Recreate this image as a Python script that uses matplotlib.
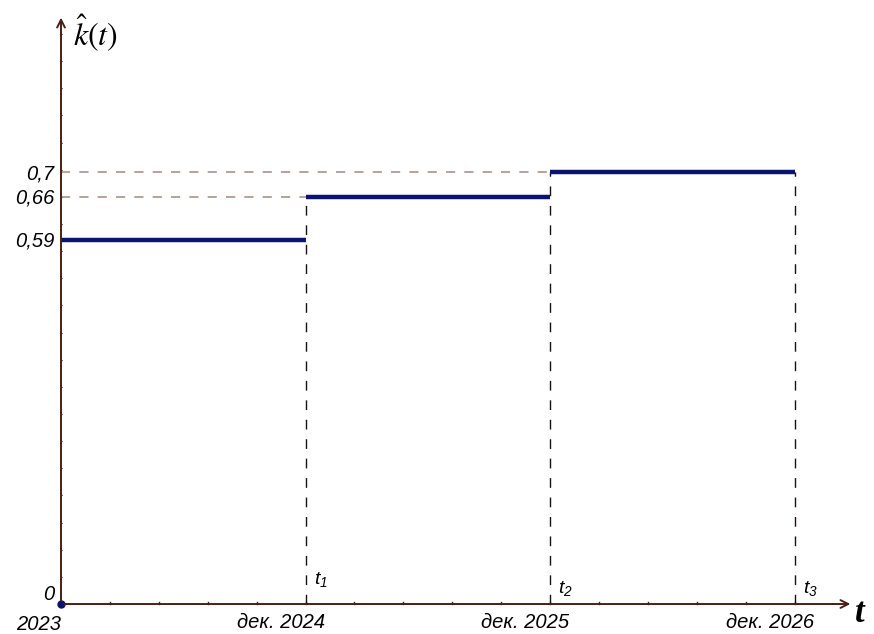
import matplotlib
matplotlib.use("Agg")
import matplotlib.pyplot as plt
import numpy as np

plt.rcParams['mathtext.fontset'] = 'custom'
plt.rcParams['mathtext.it'] = 'Liberation Sans:italic'
plt.rcParams['mathtext.rm'] = 'Liberation Sans:italic'

# Step function k̂(t) on intervals [t0,t1], [t1,t2], [t2,t3]
t_points = [0, 1, 2, 3]
k_values = [0.59, 0.66, 0.7]
y_tick_values = [0.7, 0.66, 0.59]
y_tick_labels = ["0,7", "0,66", "0,59"]
x_tick_labels = ["дек. 2024", "дек. 2025", "дек. 2026"]
t_names = ["$t_1$", "$t_2$", "$t_3$"]

NAVY = "#0b1370"
AXIS = "#4a1e14"
GUIDE_H = "#a08a82"
GUIDE_V = "#1a1010"
FS = 14.5

fig = plt.figure(figsize=(8.74, 6.34), dpi=100)
ax = fig.add_axes([0, 0, 1, 1])
ax.set_xlim(-0.2495, 3.325)
ax.set_ylim(-0.0486, 0.979)
ax.axis("off")

# axes with open arrowheads
ax.annotate("", xy=(3.24, 0), xytext=(0, 0),
            arrowprops=dict(arrowstyle="->", color=AXIS, lw=1.4, mutation_scale=14))
ax.annotate("", xy=(0, 0.955), xytext=(0, 0),
            arrowprops=dict(arrowstyle="->", color=AXIS, lw=1.4, mutation_scale=14))

# small tick dots along the axes
for xm in np.arange(0.2, 3.2, 0.2):
    ax.plot([xm, xm], [0, 0.004], color=AXIS, lw=1.0)
for ym in np.arange(0.044, 0.93, 0.044):
    ax.plot([0, 0.006], [ym, ym], color=AXIS, lw=0.8, alpha=0.6)

# dashed guide lines
for i, level in enumerate(k_values[1:]):
    ax.plot([0, t_points[i + 1]], [level, level], color=GUIDE_H, lw=1.1,
            dashes=(6, 6))
for i in range(1, 4):
    top = k_values[min(i, 2)]
    ax.plot([t_points[i], t_points[i]], [0, top], color=GUIDE_V, lw=1.0,
            dashes=(7, 7))

# step segments
for i, level in enumerate(k_values):
    ax.plot([t_points[i], t_points[i + 1]], [level, level], color=NAVY, lw=3.2,
            solid_capstyle="butt")

ax.plot([0], [0], "o", color=NAVY, ms=5)

txt = dict(fontsize=FS, style="italic", family="Liberation Sans")

# y tick labels
for v, lab in zip(y_tick_values, y_tick_labels):
    ax.annotate(lab, xy=(0, v), xytext=(-5, -1), textcoords="offset points",
                ha="right", va="center", **txt)
ax.annotate("0", xy=(0, 0), xytext=(-5, 7), textcoords="offset points",
            ha="right", va="center", **txt)
ax.annotate("2023", xy=(0, 0), xytext=(0, -15), textcoords="offset points",
            ha="right", va="center", **txt)

# x tick labels and t_i markers
for i, lab in enumerate(x_tick_labels):
    ax.annotate(lab, xy=(t_points[i + 1], 0), xytext=(14, -13), textcoords="offset points",
                ha="right", va="center", **txt)
for i, name in enumerate(t_names):
    dy = 18 if i == 0 else 11
    ax.annotate(name, xy=(t_points[i + 1], 0), xytext=(6, dy), textcoords="offset points",
                ha="left", va="center", fontsize=14)

# axis names
ax.text(0.05, 0.925, r"$\hat{k}(t)$", fontsize=23, math_fontfamily="stix",
        ha="left", va="center")
ax.annotate("t", xy=(3.24, 0), xytext=(1, -13), textcoords="offset points",
            ha="left", va="baseline", fontsize=25, weight="bold", style="italic",
            family="Liberation Serif")

fig.savefig("out.png", dpi=100)
